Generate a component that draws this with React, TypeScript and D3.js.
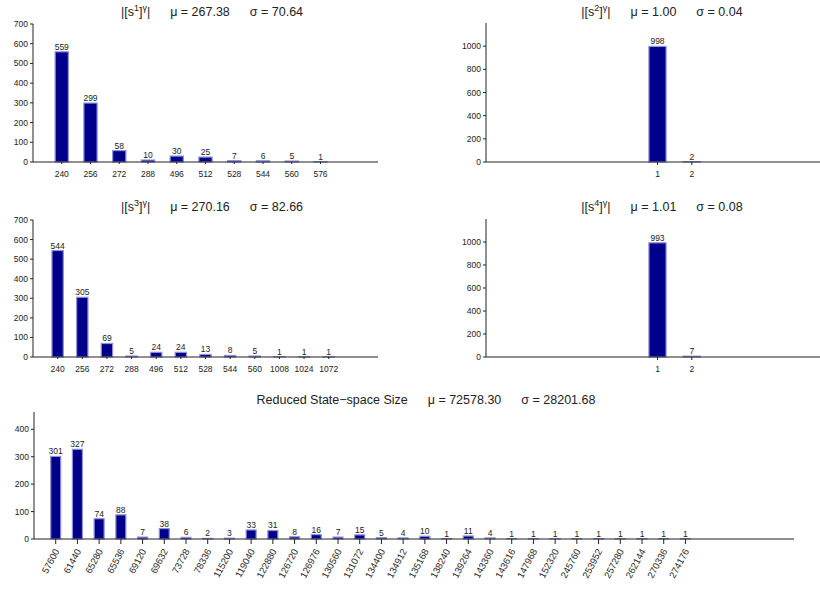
import React from "react";
import * as d3 from "d3";

// ---------- data ----------
const s1Labels = ["240", "256", "272", "288", "496", "512", "528", "544", "560", "576"];
const s1Counts = [559, 299, 58, 10, 30, 25, 7, 6, 5, 1];
const s1Ticks = [0, 100, 200, 300, 400, 500, 600, 700];

const s2Labels = ["1", "2"];
const s2Counts = [998, 2];
const s2Ticks = [0, 200, 400, 600, 800, 1000];

const s3Labels = ["240", "256", "272", "288", "496", "512", "528", "544", "560", "1008", "1024", "1072"];
const s3Counts = [544, 305, 69, 5, 24, 24, 13, 8, 5, 1, 1, 1];
const s3Ticks = [0, 100, 200, 300, 400, 500, 600, 700];

const s4Labels = ["1", "2"];
const s4Counts = [993, 7];
const s4Ticks = [0, 200, 400, 600, 800, 1000];

const stateLabels = [
  "57600", "61440", "65280", "65536", "69120", "69632", "73728", "78336", "115200", "119040",
  "122880", "126720", "126976", "130560", "131072", "134400", "134912", "135168", "138240", "139264",
  "143360", "143616", "147968", "152320", "245760", "253952", "257280", "262144", "270336", "274176",
];
const stateCounts = [
  301, 327, 74, 88, 7, 38, 6, 2, 3, 33,
  31, 8, 16, 7, 15, 5, 4, 10, 1, 11,
  4, 1, 1, 1, 1, 1, 1, 1, 1, 1,
];
const stateTicks = [0, 100, 200, 300, 400];

const panelSup = ["1", "2", "3", "4"];
const panelMu = ["267.38", "1.00", "270.16", "1.01"];
const panelSigma = ["70.64", "0.04", "82.66", "0.08"];
const stateTitle = "Reduced State\u2212space Size";
const stateMu = "72578.30";
const stateSigma = "28201.68";

// ---------- style ----------
const FONT = "'Liberation Sans', Arial, Helvetica, sans-serif";
const BAR_FILL = "#00008b";
const BAR_STROKE = "#9090dc";
const AXIS = "#222";
const TXT = "#222";

type PanelProps = {
  labels: string[];
  counts: number[];
  ticks: number[];
  yMax: number;
  x0: number; x1: number; slots: number; offset: number;
  yTop: number; yBase: number;
  widthRatio: number;
  rotate?: boolean;
  tickLen: number;
};

function Panel(p: PanelProps) {
  const x = d3.scaleLinear().domain([0, p.slots]).range([p.x0, p.x1]);
  const y = d3.scaleLinear().domain([0, p.yMax]).range([p.yBase, p.yTop]);
  const step = x(1) - x(0);
  const bw = step * p.widthRatio;
  return (
    <g>
      {/* y axis */}
      <line x1={p.x0} x2={p.x0} y1={p.yBase} y2={p.yTop} stroke={AXIS} strokeWidth={1} />
      {p.ticks.map((t) => (
        <g key={"yt" + t}>
          <line x1={p.x0 - 3} x2={p.x0} y1={y(t)} y2={y(t)} stroke={AXIS} strokeWidth={1} />
          <text x={p.x0 - 5} y={y(t) + 3} textAnchor="end" fontSize={8.5} fill={TXT}>{t}</text>
        </g>
      ))}
      {/* bars */}
      {p.counts.map((c, i) => {
        const cx = x(i + p.offset);
        return (
          <g key={"b" + i}>
            <rect x={cx - bw / 2} y={y(c)} width={bw} height={Math.max(0, y(0) - y(c))}
              fill={BAR_FILL} stroke={BAR_STROKE} strokeWidth={1.2} />
            <text x={cx} y={y(c) - 2} textAnchor="middle" fontSize={8.5} fill={TXT}>{c}</text>
          </g>
        );
      })}
      {/* x axis */}
      <line x1={p.x0} x2={p.x1} y1={p.yBase} y2={p.yBase} stroke={AXIS} strokeWidth={1.2} />
      {p.labels.map((l, i) => {
        const cx = x(i + p.offset);
        return (
          <g key={"xt" + i}>
            <line x1={cx} x2={cx} y1={p.yBase} y2={p.yBase + p.tickLen} stroke={AXIS} strokeWidth={1} />
            {p.rotate ? (
              <text transform={`translate(${cx + 4},${p.yBase + 12}) rotate(-62)`} textAnchor="end"
                fontSize={9.5} fill={TXT}>{l}</text>
            ) : (
              <text x={cx} y={p.yBase + 15} textAnchor="middle" fontSize={8.5} fill={TXT}>{l}</text>
            )}
          </g>
        );
      })}
    </g>
  );
}

function Title({ cx, y, sup, mu, sigma }: { cx: number; y: number; sup: string; mu: string; sigma: string }) {
  return (
    <text x={cx} y={y} textAnchor="middle" fontSize={12.5} fill={TXT}>
      <tspan>|[s</tspan>
      <tspan dy={-5} fontSize={9}>{sup}</tspan>
      <tspan dy={5}>]</tspan>
      <tspan dy={-5} fontSize={9}>γ</tspan>
      <tspan dy={5}>|</tspan>
      <tspan dx={20}>{"\u03bc = " + mu}</tspan>
      <tspan dx={20}>{"\u03c3 = " + sigma}</tspan>
    </text>
  );
}

export default function App() {
  return (
    <svg width={820} height={590} style={{ position: "absolute", left: 0, top: 0, background: "#fff" }}
      fontFamily={FONT}>
      <rect x={0} y={0} width={820} height={590} fill="#fff" />
      <Title cx={212} y={16} sup={panelSup[0]} mu={panelMu[0]} sigma={panelSigma[0]} />
      <Panel labels={s1Labels} counts={s1Counts} ticks={s1Ticks} yMax={700}
        x0={33} x1={378} slots={s1Labels.length + 2} offset={1}
        yTop={24} yBase={162} widthRatio={0.46} tickLen={2} />

      <Title cx={662} y={16} sup={panelSup[1]} mu={panelMu[1]} sigma={panelSigma[1]} />
      <Panel labels={s2Labels} counts={s2Counts} ticks={s2Ticks} yMax={1200}
        x0={486} x1={829} slots={10} offset={5}
        yTop={23} yBase={162} widthRatio={0.5} tickLen={3} />

      <Title cx={212} y={211} sup={panelSup[2]} mu={panelMu[2]} sigma={panelSigma[2]} />
      <Panel labels={s3Labels} counts={s3Counts} ticks={s3Ticks} yMax={700}
        x0={33} x1={378} slots={s3Labels.length + 2} offset={1}
        yTop={220} yBase={357} widthRatio={0.46} tickLen={2} />

      <Title cx={662} y={211} sup={panelSup[3]} mu={panelMu[3]} sigma={panelSigma[3]} />
      <Panel labels={s4Labels} counts={s4Counts} ticks={s4Ticks} yMax={1200}
        x0={486} x1={829} slots={10} offset={5}
        yTop={219} yBase={357} widthRatio={0.5} tickLen={3} />

      <text x={426} y={404} textAnchor="middle" fontSize={12.5} fill={TXT}>
        <tspan>{stateTitle}</tspan>
        <tspan dx={20}>{"\u03bc = " + stateMu}</tspan>
        <tspan dx={20}>{"\u03c3 = " + stateSigma}</tspan>
      </text>
      <Panel labels={stateLabels} counts={stateCounts} ticks={stateTicks} yMax={463}
        x0={34} x1={794} slots={35} offset={1}
        yTop={412} yBase={539} widthRatio={0.46} tickLen={5} rotate />
    </svg>
  );
}
